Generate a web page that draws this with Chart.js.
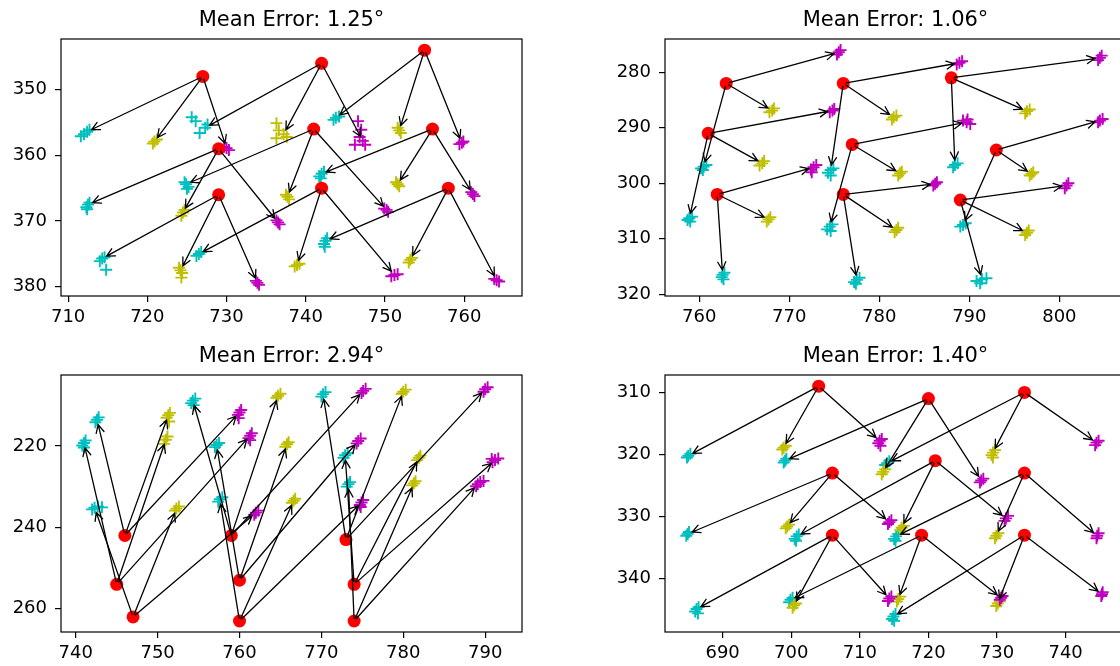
<!DOCTYPE html>
<html>
<head>
<meta charset="utf-8">
<script src="https://cdn.jsdelivr.net/npm/chart.js@4.4.1/dist/chart.umd.min.js"></script>
<style>
  html, body { margin: 0; padding: 0; background: #fff; width: 1120px; height: 666px; overflow: hidden; }
  .panel { position: absolute; }
</style>
</head>
<body>
<div class="panel" style="left:0;top:0"><canvas id="c1" width="583" height="336"></canvas></div>
<div class="panel" style="left:604px;top:0"><canvas id="c2" width="583" height="336"></canvas></div>
<div class="panel" style="left:0;top:336px"><canvas id="c3" width="583" height="336"></canvas></div>
<div class="panel" style="left:604px;top:336px"><canvas id="c4" width="583" height="336"></canvas></div>
<script>
// ---- panel 1 (arriba izquierda) ----
const tlTitle = 'Mean Error: 1.25°';
const tlXTicks = [710, 720, 730, 740, 750, 760];
const tlYTicks = [350, 360, 370, 380];
const tlRedX = [727, 742, 755, 729, 741, 756, 729, 742, 758];
const tlRedY = [348, 346, 344, 359, 356, 356, 366, 365, 365];
const tlCyan = [
  [[712.4,356.4],[712.0,356.8],[711.6,357.1],[712.7,356.1]],
  [[727.3,355.8],[725.6,354.2],[726.1,354.8],[726.6,356.6],[727.6,355.3]],
  [[743.8,354.3],[744.2,354.1],[743.5,354.6]],
  [[712.5,367.5],[712.3,367.9],[712.7,367.2],[712.4,368.2]],
  [[724.9,364.4],[725.2,364.8],[724.7,364.1],[725.0,365.1]],
  [[742.0,362.8],[741.7,363.2],[742.3,362.5],[741.9,363.5]],
  [[714.3,375.7],[714.0,376.1],[714.6,375.5],[714.8,377.4]],
  [[726.5,375.0],[726.2,375.3],[726.8,374.7]],
  [[742.5,373.0],[742.3,373.5],[742.7,372.6],[742.4,373.9]]
];
const tlYellow = [
  [[720.9,357.9],[721.2,357.6],[720.7,358.2]],
  [[737.2,356.8],[736.3,355.1],[736.6,356.2],[737.6,357.2],[736.3,357.4]],
  [[751.8,356.2],[751.6,355.8],[752.0,356.6]],
  [[724.5,368.7],[724.3,369.2],[724.7,368.3]],
  [[737.7,366.3],[737.5,366.0],[737.9,366.7]],
  [[751.6,364.4],[751.4,364.1],[751.8,364.7]],
  [[724.2,377.5],[724.0,377.1],[724.4,377.9],[724.3,378.6]],
  [[738.9,376.7],[738.6,376.9],[739.2,376.5]],
  [[753.2,375.9],[753.0,376.3],[753.4,375.6]]
];
const tlMagenta = [
  [[730.0,358.9],[730.3,359.2],[729.7,358.7]],
  [[747.2,357.8],[746.6,354.8],[747.0,356.1],[746.2,358.4],[747.5,358.4],[746.8,357.2]],
  [[759.7,358.1],[759.4,358.3],[759.9,357.9]],
  [[736.5,370.2],[736.3,369.9],[736.7,370.5]],
  [[750.2,368.3],[749.9,368.1],[750.4,368.6]],
  [[761.1,365.9],[760.9,365.6],[761.3,366.2]],
  [[733.9,379.4],[733.7,379.1],[734.1,379.7]],
  [[751.2,378.2],[750.8,378.4],[751.6,378.1]],
  [[764.1,379.0],[763.8,378.8],[764.4,379.2]]
];

// ---- panel 2 (arriba derecha) ----
const trTitle = 'Mean Error: 1.06°';
const trXTicks = [760, 770, 780, 790, 800];
const trYTicks = [280, 290, 300, 310, 320];
const trRedX = [763, 761, 762, 776, 777, 776, 788, 793, 789];
const trRedY = [282, 291, 302, 282, 293, 302, 281, 294, 303];
const trCyan = [
  [[760.5,297.0],[760.2,297.3],[760.8,296.7],[760.4,297.6]],
  [[758.9,306.3],[759.2,306.0],[758.7,306.6],[759.0,306.9]],
  [[762.6,316.5],[762.8,316.1],[762.5,316.9],[762.7,317.3]],
  [[774.6,297.6],[774.3,298.1],[774.9,297.3],[774.6,298.6]],
  [[774.5,307.8],[774.2,308.3],[774.8,307.4],[774.6,308.6]],
  [[777.5,317.4],[777.2,317.8],[777.8,317.0],[777.4,318.1]],
  [[788.4,296.7],[788.2,297.1],[788.7,296.4]],
  [[789.3,307.5],[789.0,307.8],[789.6,307.2]],
  [[791.4,317.3],[790.8,317.6],[791.9,317.1],[791.2,318.0]]
];
const trYellow = [
  [[768.1,286.9],[767.8,287.2],[768.3,286.5]],
  [[767.0,296.4],[766.7,296.8],[767.2,296.0]],
  [[767.7,306.5],[767.5,306.9],[767.9,306.1]],
  [[781.6,288.1],[781.4,288.5],[781.9,287.8]],
  [[782.3,298.2],[782.1,298.6],[782.5,297.9]],
  [[781.9,308.4],[781.7,308.8],[782.1,308.0]],
  [[796.4,287.0],[796.2,287.4],[796.7,286.7]],
  [[796.9,298.3],[796.7,298.6],[797.1,298.0]],
  [[796.4,308.9],[796.2,309.3],[796.6,308.5]]
];
const trMagenta = [
  [[775.5,276.4],[775.3,276.8],[775.7,276.0]],
  [[774.8,286.9],[774.5,287.2],[775.0,286.6]],
  [[772.7,297.1],[772.4,297.5],[773.0,296.7],[772.5,298.0]],
  [[788.9,278.3],[788.6,278.6],[789.2,278.0]],
  [[789.7,289.0],[789.3,288.7],[790.1,289.3],[789.8,288.5]],
  [[786.2,300.1],[786.0,300.4],[786.4,299.8]],
  [[804.5,277.4],[804.3,277.8],[804.7,277.0]],
  [[804.5,288.7],[804.3,289.0],[804.8,288.4]],
  [[800.8,300.4],[800.6,300.9],[801.0,300.0]]
];

// ---- panel 3 (abajo izquierda) ----
const blTitle = 'Mean Error: 2.94°';
const blXTicks = [740, 750, 760, 770, 780, 790];
const blYTicks = [220, 240, 260];
const blRedX = [746, 745, 747, 759, 760, 760, 773, 774, 774];
const blRedY = [242, 254, 262, 242, 253, 263, 243, 254, 263];
const blCyan = [
  [[742.6,213.6],[742.4,214.2],[742.8,213.0]],
  [[741.0,219.3],[740.8,219.9],[741.2,218.7],[741.0,220.4]],
  [[742.3,235.2],[742.0,235.6],[742.7,234.9],[743.2,235.1]],
  [[754.3,208.9],[754.1,209.5],[754.6,208.4],[754.4,210.0]],
  [[757.2,219.8],[757.0,220.3],[757.5,219.3]],
  [[757.6,233.1],[757.4,233.7],[757.9,232.6]],
  [[770.2,207.3],[770.0,207.9],[770.5,206.8]],
  [[772.9,222.3],[772.7,222.9],[773.2,221.8]],
  [[773.3,229.4],[773.1,230.0],[773.5,228.9]]
];
const blYellow = [
  [[751.3,212.5],[751.1,213.1],[751.5,211.9],[751.4,214.0]],
  [[751.0,218.5],[750.8,219.5],[751.2,217.7]],
  [[752.3,235.4],[752.1,235.9],[752.6,234.9]],
  [[764.7,207.7],[764.5,208.2],[765.0,207.2]],
  [[765.8,219.6],[765.6,220.2],[766.0,219.1]],
  [[766.6,233.5],[766.4,234.0],[766.8,233.0]],
  [[780.0,206.7],[779.8,207.2],[780.3,206.2]],
  [[781.9,222.9],[781.7,223.5],[782.1,222.4]],
  [[781.3,229.2],[781.1,229.7],[781.5,228.7]]
];
const blMagenta = [
  [[760.0,211.8],[759.8,212.4],[760.2,211.2],[759.9,213.2]],
  [[761.3,217.5],[761.1,218.1],[761.5,216.9],[761.3,218.6]],
  [[762.0,236.4],[761.8,236.9],[762.3,235.9]],
  [[775.1,206.5],[774.9,207.0],[775.4,206.0]],
  [[774.5,218.8],[774.3,219.4],[774.8,218.2]],
  [[774.9,233.9],[774.7,234.5],[775.1,233.3],[774.8,235.0]],
  [[790.0,206.1],[789.8,206.7],[790.3,205.6]],
  [[791.2,223.5],[790.9,224.0],[791.6,223.1],[790.8,223.2]],
  [[789.1,229.4],[788.9,229.9],[789.4,228.9],[789.8,228.6]]
];

// ---- panel 4 (abajo derecha) ----
const brTitle = 'Mean Error: 1.40°';
const brXTicks = [690, 700, 710, 720, 730, 740];
const brYTicks = [310, 320, 330, 340];
const brRedX = [704, 720, 734, 706, 721, 734, 706, 719, 734];
const brRedY = [309, 311, 310, 323, 321, 323, 333, 333, 333];
const brCyan = [
  [[685.0,320.2],[684.8,320.5],[685.3,319.9]],
  [[699.1,321.0],[698.9,321.3],[699.3,320.7]],
  [[714.0,321.4],[713.7,321.7],[714.3,321.1]],
  [[684.9,332.8],[684.7,333.1],[685.1,332.5]],
  [[700.8,333.2],[700.5,333.6],[701.1,332.9],[700.7,333.9]],
  [[715.3,333.2],[715.0,333.6],[715.6,332.8],[715.2,333.9]],
  [[686.2,344.9],[686.0,345.3],[686.5,344.6],[686.4,345.6]],
  [[699.9,343.4],[699.7,343.8],[700.2,343.1]],
  [[714.9,346.1],[714.7,346.5],[715.2,345.7],[715.0,346.8]]
];
const brYellow = [
  [[698.9,318.9],[698.7,319.2],[699.2,318.6]],
  [[713.4,322.8],[713.2,323.2],[713.7,322.4]],
  [[729.4,319.7],[729.2,320.1],[729.7,319.3],[729.4,320.5]],
  [[699.4,331.6],[699.2,331.9],[699.7,331.3]],
  [[716.1,331.8],[715.9,332.2],[716.4,331.5]],
  [[729.9,333.1],[729.7,333.5],[730.2,332.7]],
  [[700.4,344.3],[700.2,344.7],[700.7,344.0]],
  [[715.6,343.3],[715.4,343.7],[715.9,342.9]],
  [[730.1,344.0],[729.9,344.4],[730.4,343.7]]
];
const brMagenta = [
  [[712.9,317.8],[712.7,318.2],[713.2,317.5],[713.0,318.6]],
  [[727.7,324.2],[727.5,324.5],[728.0,323.9]],
  [[744.5,318.1],[744.3,318.5],[744.8,317.8]],
  [[714.3,330.9],[714.1,331.2],[714.6,330.6]],
  [[731.3,330.3],[731.1,330.7],[731.6,329.9]],
  [[744.6,333.1],[744.5,333.5],[744.8,332.7]],
  [[714.3,343.2],[714.1,343.6],[714.6,342.9]],
  [[730.6,343.1],[730.4,343.4],[730.8,342.8]],
  [[745.3,342.5],[745.2,342.8],[745.4,342.2]]
];

Chart.defaults.font.family = 'DejaVu Sans';
Chart.defaults.color = '#000';

// Dibuja el marco de los ejes y las flechas
const arrowPlugin = {
  id: 'arrows',
  afterDatasetsDraw(chart, args, opts) {
    const { ctx, chartArea: a, scales } = chart;
    ctx.save();
    ctx.strokeStyle = '#000';
    ctx.lineWidth = 1.2;
    ctx.strokeRect(a.left, a.top, a.right - a.left, a.bottom - a.top);
    ctx.lineWidth = 1.3;
    ctx.lineCap = 'round';
    opts.segments.forEach(s => {
      let x0 = scales.x.getPixelForValue(s[0]), y0 = scales.y.getPixelForValue(s[1]);
      let x1 = scales.x.getPixelForValue(s[2]), y1 = scales.y.getPixelForValue(s[3]);
      const ang = Math.atan2(y1 - y0, x1 - x0);
      const c = Math.cos(ang), sn = Math.sin(ang);
      x0 += c * 3; y0 += sn * 3;
      x1 -= c * 5; y1 -= sn * 5;
      ctx.beginPath();
      ctx.moveTo(x0, y0);
      ctx.lineTo(x1, y1);
      ctx.moveTo(x1 - c * 8 - sn * 4, y1 - sn * 8 + c * 4);
      ctx.lineTo(x1, y1);
      ctx.lineTo(x1 - c * 8 + sn * 4, y1 - sn * 8 - c * 4);
      ctx.stroke();
    });
    ctx.restore();
  }
};

function toPoints(clusters) {
  return clusters.flat().map(p => ({ x: p[0], y: p[1] }));
}

function crossSet(clusters, color) {
  return {
    data: toPoints(clusters),
    pointStyle: 'cross',
    pointRadius: 6,
    pointBorderWidth: 1.9,
    borderColor: color,
    backgroundColor: color,
    showLine: false
  };
}

function makeChart(id, title, redX, redY, cyan, yellow, magenta, xTicks, yTicks, xr, yr) {
  const segments = [];
  redX.forEach((x, i) => {
    [cyan, yellow, magenta].forEach(cl => {
      segments.push([x, redY[i], cl[i][0][0], cl[i][0][1]]);
    });
  });
  const tickFont = { family: 'DejaVu Sans', size: 18 };
  return new Chart(document.getElementById(id), {
    type: 'scatter',
    data: {
      datasets: [
        {
          data: redX.map((x, i) => ({ x: x, y: redY[i] })),
          pointStyle: 'circle',
          pointRadius: 6.5,
          borderWidth: 0,
          backgroundColor: '#ff0000',
          borderColor: '#ff0000'
        },
        crossSet(magenta, '#bf00bf'),
        crossSet(yellow, '#bfbf00'),
        crossSet(cyan, '#00bfbf')
      ]
    },
    options: {
      responsive: false,
      animation: false,
      events: [],
      layout: { padding: { left: 0, right: 61, top: 0, bottom: 0 } },
      plugins: {
        legend: { display: false },
        tooltip: { enabled: false },
        title: {
          display: true,
          fullSize: false,
          text: title,
          color: '#000',
          font: { family: 'DejaVu Sans', size: 21, weight: 'normal' },
          padding: { top: 8, bottom: 5.8 }
        },
        arrows: { segments: segments }
      },
      scales: {
        x: {
          type: 'linear',
          min: xr[0],
          max: xr[1],
          afterBuildTicks: s => { s.ticks = xTicks.map(v => ({ value: v })); },
          afterFit: s => { s.height = 40; },
          border: { display: false },
          grid: { drawOnChartArea: false, drawTicks: true, tickLength: 6, color: '#000', lineWidth: 1.2 },
          ticks: { color: '#000', font: tickFont, padding: 5, maxRotation: 0, autoSkip: false }
        },
        y: {
          type: 'linear',
          reverse: true,
          min: yr[0],
          max: yr[1],
          afterBuildTicks: s => { s.ticks = yTicks.map(v => ({ value: v })); },
          afterFit: s => { s.width = 61; },
          border: { display: false },
          grid: { drawOnChartArea: false, drawTicks: true, tickLength: 6, color: '#000', lineWidth: 1.2 },
          ticks: { color: '#000', font: tickFont, padding: 8, autoSkip: false }
        }
      }
    },
    plugins: [arrowPlugin]
  });
}

makeChart('c1', tlTitle, tlRedX, tlRedY, tlCyan, tlYellow, tlMagenta, tlXTicks, tlYTicks, [709.1, 767.3], [342.3, 381.4]);
makeChart('c2', trTitle, trRedX, trRedY, trCyan, trYellow, trMagenta, trXTicks, trYTicks, [756.2, 807.4], [274.0, 320.3]);
makeChart('c3', blTitle, blRedX, blRedY, blCyan, blYellow, blMagenta, blXTicks, blYTicks, [738.2, 794.5], [202.6, 265.7]);
makeChart('c4', brTitle, brRedX, brRedY, brCyan, brYellow, brMagenta, brXTicks, brYTicks, [681.6, 748.8], [307.2, 348.6]);
</script>
</body>
</html>
